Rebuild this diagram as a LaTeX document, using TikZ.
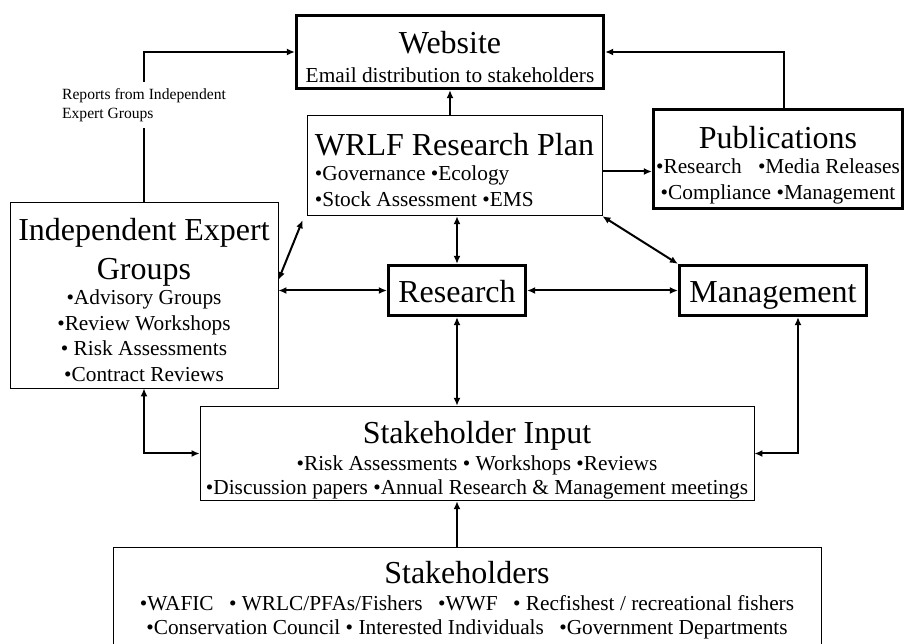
\documentclass[tikz,border=0pt]{standalone}
\usepackage{fontspec}
\setmainfont{Liberation Serif}
\usetikzlibrary{positioning, arrows.meta}

\newcommand{\bigtxt}{\fontsize{32}{37}\selectfont}
\newcommand{\smalltxt}{\fontsize{21.33}{25.5}\selectfont}

\begin{document}
\begin{tikzpicture}[x=1pt, y=-1pt,
        thinbox/.style={draw, rectangle, line width=0.8pt, align=center, inner sep=2pt, font=\smalltxt},
        thickbox/.style={draw, rectangle, line width=3.2pt, align=center, inner sep=2pt, font=\smalltxt},
        onerow/.style={font=\bigtxt, text height=28pt, text depth=4pt},
        arrow/.style={-{Latex[length=8pt, width=7pt]}, line width=2pt},
        biarrow/.style={{Latex[length=8pt, width=7pt]}-{Latex[length=8pt, width=7pt]}, line width=2pt},
        note/.style={fill=white, align=left, font=\fontsize{15.6}{19}\selectfont, inner sep=6pt}
    ]
    \useasboundingbox (0,0) rectangle (906,644);

    \node[thickbox, minimum width=307pt, minimum height=73pt] (web) at (450,52) {\bigtxt\rule{0pt}{32pt}Website\\[4pt]\smalltxt Email distribution to stakeholders};
    \node[thinbox, minimum width=295pt, minimum height=97pt] (wrlf) at (454.5,165.5) {\begin{tabular}{@{}l@{}}\multicolumn{1}{@{}c@{}}{\bigtxt\rule{0pt}{38pt}WRLF Research Plan}\\ •Governance •Ecology\\ •Stock Assessment •EMS\end{tabular}};
    \node[thickbox, minimum width=249pt, minimum height=99pt] (pub) at (778,159) {\bigtxt\rule{0pt}{34pt}Publications\\\smalltxt •Research\hspace{11pt} •Media Releases\\•Compliance •Management};
    \node[thinbox, minimum width=268pt, minimum height=186pt] (ieg) at (144,295) {\bigtxt\rule{0pt}{32pt}Independent Expert\\[10pt]\bigtxt Groups\\\smalltxt •Advisory Groups\\•Review Workshops\\• Risk Assessments\\•Contract Reviews};
    \node[thickbox, onerow, minimum width=137pt, minimum height=50pt] (res) at (457,290.5) {Research};
    \node[thickbox, onerow, minimum width=187pt, minimum height=50pt] (mgmt) at (773,290.5) {Management};
    \node[thinbox, minimum width=554pt, minimum height=93pt] (sin) at (477,453.5) {\bigtxt\rule{0pt}{35pt}Stakeholder Input\\[2pt]\smalltxt •Risk Assessments • Workshops •Reviews\\[-2pt]•Discussion papers •Annual Research \& Management meetings};
    \node[thinbox, minimum width=708pt, minimum height=120pt, anchor=north] (stk) at (467,547) {};
    \node[font=\smalltxt, align=center] (stklist) at (467,600) {\bigtxt Stakeholders\\[2pt]\smalltxt •WAFIC\hspace{10pt} • WRLC/PFAs/Fishers\hspace{10pt} •WWF\hspace{10pt} • Recfishest / recreational fishers\\[-2pt]•Conservation Council • Interested Individuals\hspace{10pt} •Government Departments};

    % links to the website
    \draw[arrow] (ieg.north) |- node[note, pos=0.323] (rep) {Reports from Independent\\Expert Groups} (web.west);
    \draw[arrow] ([xshift=6pt]pub.north) |- (web.east);
    \draw[arrow] (web.south |- wrlf.north) -- (web.south);
    \draw[arrow] ([yshift=-6pt]wrlf.east) -- ([yshift=-6pt]wrlf.east -| pub.west);

    % two-way links
    \draw[biarrow] ([yshift=15pt]ieg.east) -- ([xshift=-4pt, yshift=-4pt]wrlf.south west);
    \draw[biarrow] (ieg.east |- res.west) -- (res.west);
    \draw[biarrow] (res.north |- wrlf.south) -- (res.north);
    \draw[biarrow] (res.east) -- (mgmt.west);
    \draw[biarrow] (wrlf.south east) -- (mgmt.north west);
    \draw[biarrow] (res.south) -- (res.south |- sin.north);
    \draw[biarrow] (ieg.south) |- (sin.west);
    \draw[biarrow] ([xshift=25pt]mgmt.south) |- (sin.east);

    \draw[arrow] (stk.north -| res.south) -- (sin.south -| res.south);
\end{tikzpicture}
\end{document}
